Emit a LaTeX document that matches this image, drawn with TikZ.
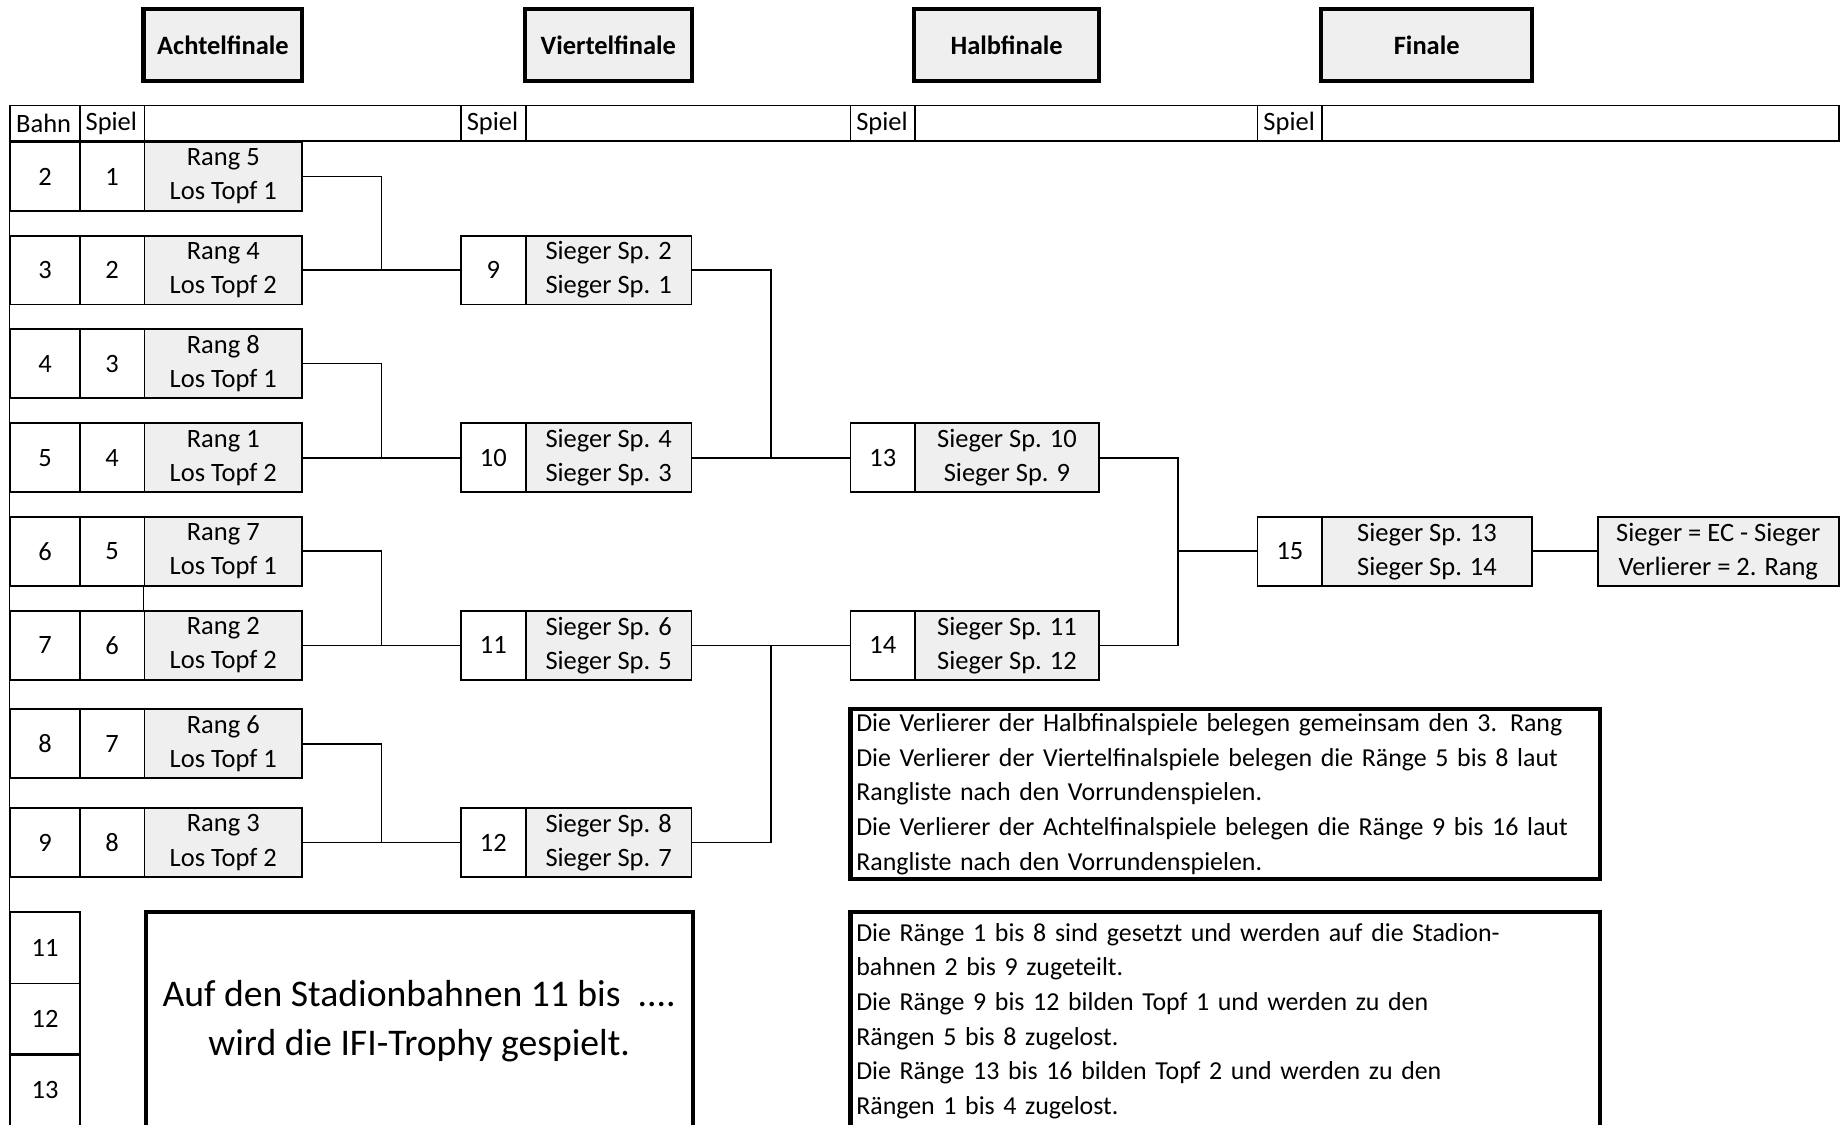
\documentclass[tikz,border=0pt]{standalone}
\usepackage{fontspec}
\setmainfont{Carlito}
\usetikzlibrary{calc}

\definecolor{cellgrey}{RGB}{239,239,239}
\tikzset{
  cell/.style={draw, line width=1.5pt, inner sep=0pt, anchor=north west, align=center,
    minimum height=58.5pt, font=\fontsize{22.5}{29}\selectfont},
  numcell/.style={cell, minimum width=#1},
  greycell/.style={cell, fill=cellgrey, minimum width=#1},
  headcell/.style={cell, minimum height=30pt, text width=#1, align=left, inner xsep=5pt},
  roundtitle/.style={draw, line width=3.5pt, fill=cellgrey, minimum width=#1, minimum height=61pt,
    font=\fontsize{22.5}{29}\selectfont\bfseries},
  notebox/.style={draw, line width=3.5pt, anchor=north west, inner xsep=5pt, inner ysep=0pt,
    font=\fontsize{22}{29.5}\selectfont},
  link/.style={line width=1.5pt}
}

\begin{document}
\begin{tikzpicture}[x=1pt, y=-1pt]
  \useasboundingbox (0,0) rectangle (1568,956);

  % round titles
  \node[roundtitle=135pt] (t1) at (189.5,38.5) {Achtelfinale};
  \node[roundtitle=142pt] (t2) at (517,38.5) {Viertelfinale};
  \node[roundtitle=157pt] (t3) at (855.5,38.5) {Halbfinale};
  \node[roundtitle=179pt] (t4) at (1212.5,38.5) {Finale};

  % header row
  \foreach \x/\w/\t [count=\i] in {8/59/Bahn, 67/55/Spiel, 122/269/{}, 391/55/Spiel, 446/276/{},
      722/55/Spiel, 777/291/{}, 1068/55/Spiel, 1123/439/{}} {
    \pgfmathsetmacro\tw{\w-10}
    \node[headcell=\tw pt] (hd\i) at (\x,89) {\t};
  }

  % Achtelfinale
  \foreach \y/\b/\s/\r/\t in {120/2/1/5/1, 199.5/3/2/4/2, 279/4/3/8/1, 359/5/4/1/2,
      438.5/6/5/7/1, 518.5/7/6/2/2, 602/8/7/6/1, 686/9/8/3/2} {
    \node[numcell=59pt] (b\s) at (8,\y) {\b};
    \node[numcell=55pt] (s\s) at (67,\y) {\s};
    \node[greycell=134pt] (r\s) at (122,\y) {Rang \r\\Los Topf \t};
  }
  \foreach \y/\b in {774/11, 835/12, 895/13}
    \node[numcell=59pt, minimum height=61pt] (l\b) at (8,\y) {\b};

  % Viertelfinale
  \foreach \y/\g/\a/\c in {199.5/9/2/1, 359/10/4/3, 518.5/11/6/5, 686/12/8/7} {
    \node[numcell=55pt] (vs\g) at (391,\y) {\g};
    \node[greycell=141pt] (vf\g) at (446,\y) {Sieger Sp. \a\\Sieger Sp. \c};
  }

  % Halbfinale
  \foreach \y/\g/\a/\c in {359/13/10/9, 518.5/14/11/12} {
    \node[numcell=55pt] (hs\g) at (722,\y) {\g};
    \node[greycell=156pt] (hf\g) at (777,\y) {Sieger Sp. \a\\Sieger Sp. \c};
  }

  % Finale
  \node[numcell=55pt] (fs15) at (1068,438.5) {15};
  \node[greycell=178pt] (ff15) at (1123,438.5) {Sieger Sp. 13\\Sieger Sp. 14};
  \node[greycell=205pt] (res) at (1357,438.5) {Sieger = EC - Sieger\\Verlierer = 2. Rang};

  % connectors
  \foreach \u/\l/\g in {1/2/9, 3/4/10, 5/6/11, 7/8/12} {
    \coordinate (j\g) at ($(r\l.east)!.5!(vs\g.west)$);
    \draw[link] (r\u.east) -| (j\g);
    \draw[link] (r\l.east) -- (vs\g.west);
  }
  \coordinate (k13) at ($(vf10.east)!.5!(hs13.west)$);
  \draw[link] (vf9.east) -| (k13);
  \draw[link] (vf10.east) -- (hs13.west);
  \coordinate (k14) at ($(vf11.east)!.5!(hs14.west)$);
  \draw[link] (vf12.east) -| (k14);
  \draw[link] (vf11.east) -- (hs14.west);
  \coordinate (k15x) at ($(hf13.east)!.5!(fs15.west)$);
  \coordinate (k15) at (k15x |- fs15.west);
  \draw[link] (hf13.east) -| (k15);
  \draw[link] (hf14.east) -| (k15);
  \draw[link] (k15) -- (fs15.west);
  \draw[link] (ff15.east) -- (res.west);

  \draw[link] (hd1.south west) -- (l11.north west);
  \draw[link] (r5.south west) -- (r6.north west);

  % notes
  \node[notebox, minimum width=465pt, minimum height=186pt, align=center,
    font=\fontsize{32}{41}\selectfont] (trophy) at (122,773)
    {Auf den Stadionbahnen 11 bis\ \ ....\\wird die IFI-Trophy gespielt.};
  \node[notebox, minimum width=637pt, minimum height=144pt, text width=627pt, align=left] (losers) at (721,601)
    {Die Verlierer der Halbfinalspiele belegen gemeinsam den 3. Rang\\
     Die Verlierer der Viertelfinalspiele belegen die Ränge 5 bis 8 laut\\
     Rangliste nach den Vorrundenspielen.\\
     Die Verlierer der Achtelfinalspiele belegen die Ränge 9 bis 16 laut\\
     Rangliste nach den Vorrundenspielen.};
  \node[notebox, minimum width=637pt, minimum height=186pt, text width=627pt, align=left] (seeding) at (721,773)
    {Die Ränge 1 bis 8 sind gesetzt und werden auf die Stadion-\\
     bahnen 2 bis 9 zugeteilt.\\
     Die Ränge 9 bis 12 bilden Topf 1 und werden zu den\\
     Rängen 5 bis 8 zugelost.\\
     Die Ränge 13 bis 16 bilden Topf 2 und werden zu den\\
     Rängen 1 bis 4 zugelost.};
\end{tikzpicture}
\end{document}
